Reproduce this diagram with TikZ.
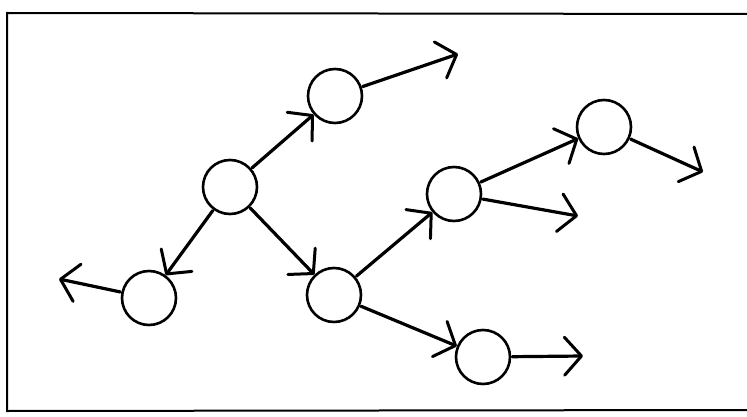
\documentclass[tikz,border=0pt]{standalone}
\usetikzlibrary{arrows.meta}
\begin{document}
\begin{tikzpicture}[x=1pt,y=-1pt,
  state/.style={circle,draw,line width=2.6pt,minimum size=54pt,inner sep=0pt},
  link/.style={line width=3.2pt,line cap=round,-{Straight Barb[length=17pt,width=38pt,line width=3pt,round]},shorten <=1pt},
  frameline/.style={line width=2pt}]
\useasboundingbox (0,0) rectangle (747,417);
% frame
\coordinate (tl) at (7,13);
\coordinate (tr) at (747,14);
\coordinate (bl) at (7,411);
\coordinate (br) at (747,410);
\draw[frameline] (tr) -- (tl) -- (bl) -- (br);
% nodes
\node[state] (A) at (230,187) {};
\node[state] (B) at (335,96) {};
\node[state] (C) at (149,298) {};
\node[state] (D) at (334,295) {};
\node[state] (E) at (454,194) {};
\node[state] (F) at (604,127) {};
\node[state] (G) at (483,357) {};
% free ends
\coordinate (Bo) at (458,54);
\coordinate (Co) at (59,279);
\coordinate (Eo) at (578,216);
\coordinate (Fo) at (703,172);
\coordinate (Go) at (583,356);
% connectors
\draw[link] (A) -- (B);
\draw[link] (A) -- (C);
\draw[link] (A) -- (D);
\draw[link] (B) -- (Bo);
\draw[link] (C) -- (Co);
\draw[link] (D) -- (E);
\draw[link] (D) -- (G);
\draw[link] (E) -- (F);
\draw[link] (E.-10) -- (Eo);
\draw[link] (F) -- (Fo);
\draw[link] (G) -- (Go);
\end{tikzpicture}
\end{document}
